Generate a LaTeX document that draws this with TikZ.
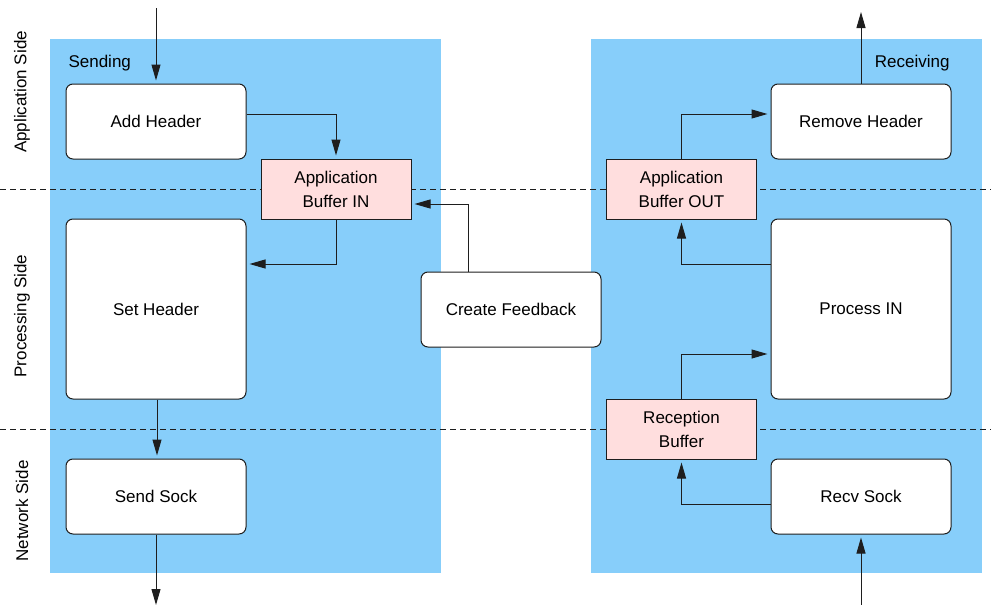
\documentclass[tikz,border=0pt]{standalone}
\usepackage{fontspec}
\setmainfont{Liberation Sans}
\usetikzlibrary{arrows.meta}
\definecolor{panelblue}{RGB}{135,206,250}
\definecolor{bufpink}{RGB}{255,222,222}
\definecolor{linegray}{RGB}{30,30,30}
\tikzset{
  txt/.style={font=\fontsize{17}{24}\selectfont, text=black},
  procbox/.style={txt, draw=linegray, line width=1pt, fill=white, rounded corners=7pt,
                  inner sep=0pt, align=center},
  bufbox/.style={txt, draw=linegray, line width=1pt, fill=bufpink,
                 inner sep=0pt, align=center, minimum width=150pt, minimum height=60pt},
  arr/.style={draw=linegray, line width=1pt, -{Triangle[length=16pt,width=9pt]},
              shorten >=3pt},
  layerline/.style={draw=linegray, line width=0.8pt, dash pattern=on 6pt off 4pt},
  sidelabel/.style={txt, rotate=90},
}
\begin{document}
\begin{tikzpicture}[x=1pt,y=-1pt]
\useasboundingbox (0,0) rectangle (991,605);

% sending and receiving panels
\fill[panelblue] (50,39) rectangle (441,573);
\fill[panelblue] (591,39) rectangle (982,573);

% layer separators
\draw[layerline] (0,189) -- (991,189);
\draw[layerline] (0,429.5) -- (991,429.5);

% layer names
\node[sidelabel] (lapp) at (22,92) {Application Side};
\node[sidelabel] (lproc) at (22,316) {Processing Side};
\node[sidelabel] (lnet) at (22,511) {Network Side};

\node[txt, anchor=base west] (sending) at (65,67) {Sending};
\node[txt, anchor=base east] (receiving) at (953,67) {Receiving};

% sending side
\node[procbox, minimum width=180pt, minimum height=75pt] (addh) at (156,121.5) {Add Header};
\node[bufbox] (bufin) at (336,189) {Application\\Buffer IN};
\node[procbox, minimum width=180pt, minimum height=180pt] (seth) at (156,309) {Set Header};
\node[procbox, minimum width=180pt, minimum height=75pt] (sends) at (156,496.5) {Send Sock};

% feedback
\node[procbox, minimum width=180pt, minimum height=75pt] (fb) at (511,309.5) {Create Feedback};

% receiving side
\node[procbox, minimum width=180pt, minimum height=75pt] (remh) at (861,121.5) {Remove Header};
\node[bufbox] (bufout) at (681.5,189) {Application\\Buffer OUT};
\node[procbox, minimum width=180pt, minimum height=180pt] (proc) at (861,309) {Process IN};
\node[bufbox] (recbuf) at (681.5,429) {Reception\\Buffer};
\node[procbox, minimum width=180pt, minimum height=75pt] (recvs) at (861,496.5) {Recv Sock};

% free ends
\coordinate (appin) at (156,8);
\coordinate (netout) at (156,605);
\coordinate (appout) at (861,8);
\coordinate (netin) at (861,605);

% sending flow
\draw[arr] (appin) -- (addh.north);
\draw[arr] ([yshift=7.5pt]addh.east) -| (bufin.north);
\draw[arr] (bufin.south) |- ([yshift=45pt]seth.east);
\draw[arr] ([xshift=1pt]seth.south) -- ([xshift=1pt]sends.north);
\draw[arr, shorten >=0pt] (sends.south) -- (netout);

% feedback flow
\draw[arr] ([xshift=-43pt]fb.north) |- ([yshift=-15pt]bufin.east);

% receiving flow
\draw[arr] (netin) -- (recvs.south);
\draw[arr] ([yshift=-7.5pt]recvs.west) -| (recbuf.south);
\draw[arr] (recbuf.north) |- ([yshift=-45pt]proc.west);
\draw[arr] ([yshift=45pt]proc.west) -| (bufout.south);
\draw[arr] (bufout.north) |- ([yshift=7.5pt]remh.west);
\draw[arr, shorten >=4pt] (remh.north) -- (appout);
\end{tikzpicture}
\end{document}
